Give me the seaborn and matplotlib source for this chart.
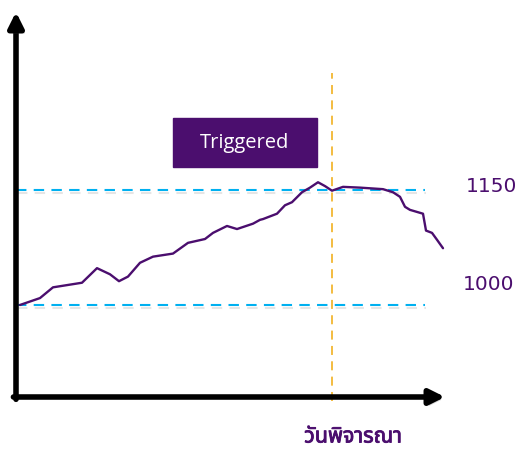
import matplotlib
matplotlib.use("Agg")
import matplotlib.pyplot as plt
import matplotlib.patheffects as pe
import seaborn as sns
import pandas as pd

# Data (day index, price)
days = [4, 24, 37, 66, 81, 94, 103, 112, 124, 137, 157, 172, 189, 197, 211, 221,
        237, 244, 247, 261, 269, 276, 286, 294, 302, 309, 316, 327, 344, 367, 377,
        384, 389, 394, 407, 410, 416, 421, 427]
price = [1000, 1009, 1023, 1029, 1048, 1040, 1031, 1037, 1055, 1063, 1067, 1081,
         1086, 1094, 1103, 1099, 1106, 1111, 1112, 1119, 1130, 1134, 1147, 1153,
         1160, 1155, 1149, 1154, 1153, 1151, 1147, 1141, 1128, 1124, 1119, 1097,
         1094, 1085, 1074]
levels = [1150, 1000]
level_labels = ["1150", "1000"]
trigger_day = 316
trigger_text = "Triggered"
xlabel_text = "วันพิจารณา"

sns.set_style("white")

W, H = 519, 449
fig = plt.figure(figsize=(W / 100, H / 100), dpi=100)
ax = fig.add_axes([16 / W, (H - 397) / H, (445 - 16) / W, (397 - 12) / H])

purple = "#4B0E6E"
blue = "#00B0F0"
gold = "#F2B632"

ax.set_xlim(0, 429)
ax.set_ylim(880, 1382)

shadow = [pe.SimpleLineShadow(offset=(1, -2), shadow_color="gray", alpha=0.2), pe.Normal()]

for lv in levels:
    ax.plot([0, 409], [lv, lv], color=blue, lw=1.5, ls=(0, (5, 3.5)),
            path_effects=shadow, zorder=2)

ax.plot([trigger_day, trigger_day], [875, 1302], color=gold, lw=1.3,
        ls=(0, (5, 3.5)), zorder=2, clip_on=False)

df = pd.DataFrame({"day": days, "price": price})
sns.lineplot(data=df, x="day", y="price", ax=ax, color=purple, lw=1.7, zorder=3)

for sp in ax.spines.values():
    sp.set_visible(False)
ax.set_xticks([])
ax.set_yticks([])
ax.set_xlabel("")
ax.set_ylabel("")

arrow_pe = [pe.SimplePatchShadow(offset=(2, -2), shadow_rgbFace="gray", alpha=0.3), pe.Normal()]
ax.annotate("", xy=(0, 1.0), xytext=(0, -0.006), xycoords="axes fraction",
            arrowprops=dict(arrowstyle="-|>,head_length=0.9,head_width=0.45",
                            lw=4, color="black", shrinkA=0, shrinkB=0),
            annotation_clip=False).arrow_patch.set_path_effects(arrow_pe)
ax.annotate("", xy=(1.0, 0), xytext=(-0.006, 0), xycoords="axes fraction",
            arrowprops=dict(arrowstyle="-|>,head_length=0.9,head_width=0.45",
                            lw=4, color="black", shrinkA=0, shrinkB=0),
            annotation_clip=False).arrow_patch.set_path_effects(arrow_pe)

# Triggered box
fig.patches.append(plt.Rectangle((173 / W, (H - 167) / H), 144 / W, 49 / H,
                                 transform=fig.transFigure, color=purple, zorder=5))
fig.text(245 / W, (H - 143) / H, trigger_text, color="white", fontsize=14.5,
         family="Open Sans", ha="center", va="center", zorder=6)

fig.text(492 / W, (H - 187) / H, level_labels[0], color=purple, fontsize=14.5,
         family="DejaVu Sans", ha="center", va="center")
fig.text(488.5 / W, (H - 285) / H, level_labels[1], color=purple, fontsize=14.5,
         family="DejaVu Sans", ha="center", va="center")

fig.text(353 / W, (H - 437) / H, xlabel_text, color=purple, fontsize=15.5,
         fontweight="bold", family=["Noto Sans Thai", "DejaVu Sans"],
         ha="center", va="center",
         path_effects=[pe.withStroke(linewidth=0.6, foreground=purple)])

fig.savefig("out.png", dpi=100)
